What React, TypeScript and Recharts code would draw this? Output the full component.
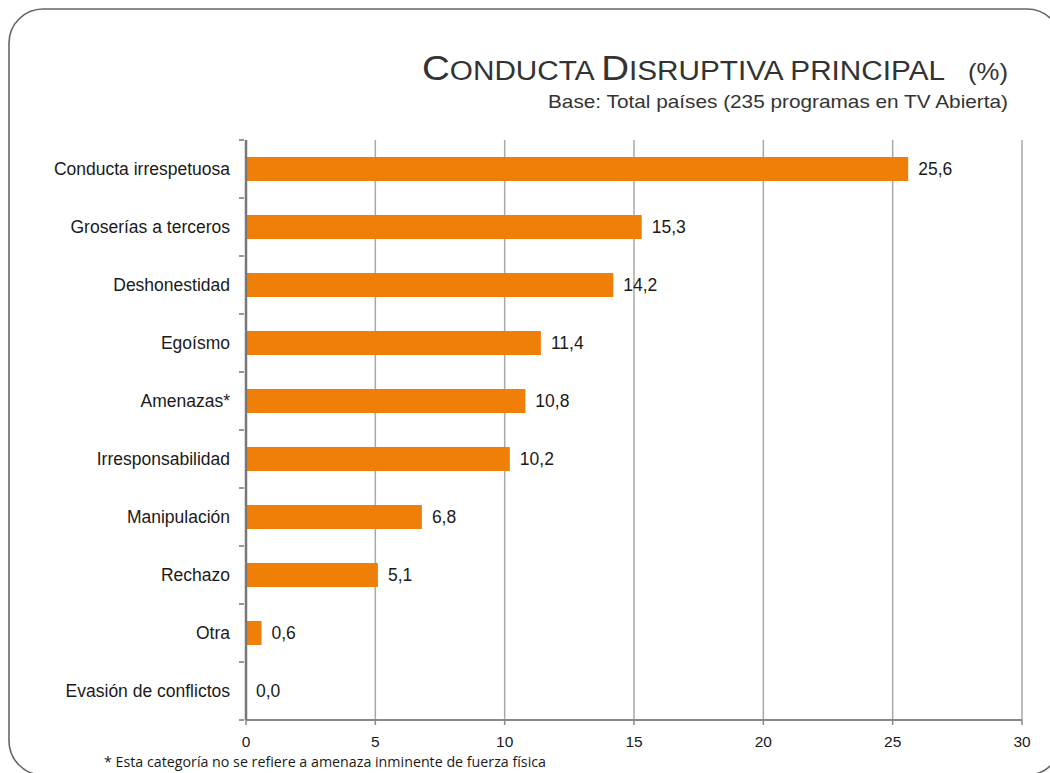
import React from 'react';
import { BarChart, Bar, XAxis, YAxis, CartesianGrid, LabelList } from 'recharts';

const categories = [
  'Conducta irrespetuosa',
  'Groserías a terceros',
  'Deshonestidad',
  'Egoísmo',
  'Amenazas*',
  'Irresponsabilidad',
  'Manipulación',
  'Rechazo',
  'Otra',
  'Evasión de conflictos',
];
const values = [25.6, 15.3, 14.2, 11.4, 10.8, 10.2, 6.8, 5.1, 0.6, 0.0];
const xTicks = [0, 5, 10, 15, 20, 25, 30];

const data = categories.map((name, i) => ({ name, value: values[i] }));

const FONT = '"Liberation Sans", Arial, sans-serif';
const ORANGE = '#F07F09';

const fmt = (v: any) => Number(v).toFixed(1).replace('.', ',');

function CategoryTick(props: any) {
  const { x, y, payload, index } = props;
  const half = payload && payload.offset ? payload.offset : 29;
  const axisX = x + 8;
  return (
    <g>
      <line x1={axisX - 5} x2={axisX} y1={y - half} y2={y - half} stroke="#777" strokeWidth={1.5} />
      {index === categories.length - 1 && (
        <line x1={axisX - 5} x2={axisX} y1={y + half} y2={y + half} stroke="#777" strokeWidth={1.5} />
      )}
      <text x={x - 6} y={y} dy="0.355em" textAnchor="end" fontSize={17.5} fill="#1a1a1a" fontFamily={FONT}>
        {payload.value}
      </text>
    </g>
  );
}

function ValueLabel(props: any) {
  const { x, y, width, height, value } = props;
  const w = Number(width) < 1 ? 0 : Number(width);
  return (
    <text
      x={Number(x) + w + 10}
      y={Number(y) + Number(height) / 2}
      dy="0.355em"
      fontSize={17.5}
      fill="#1a1a1a"
      fontFamily={FONT}
    >
      {fmt(value)}
    </text>
  );
}

export default function App() {
  return (
    <div
      style={{
        position: 'fixed',
        left: 0,
        top: 0,
        width: 1050,
        height: 773,
        overflow: 'hidden',
        background: '#fff',
      }}
    >
      <div style={{ position: 'absolute', left: 8, top: 8, width: 1034, height: 757 }}>
        <BarChart
          width={1034}
          height={757}
          data={data}
          layout="vertical"
          margin={{ top: 132, right: 20, bottom: 15, left: 0 }}
          barSize={24}
        >
          <CartesianGrid horizontal={false} vertical stroke="#a8a8a8" strokeWidth={1.5} />
          <XAxis
            type="number"
            domain={[0, 30]}
            ticks={xTicks}
            height={30}
            tickSize={5}
            tickMargin={11}
            axisLine={{ stroke: '#888', strokeWidth: 2 }}
            tickLine={{ stroke: '#888', strokeWidth: 1.5 }}
            tick={{ fontSize: 15.5, fill: '#1a1a1a', fontFamily: FONT }}
            interval={0}
          />
          <YAxis
            type="category"
            dataKey="name"
            width={238}
            tickSize={8}
            tickLine={false}
            axisLine={{ stroke: '#777', strokeWidth: 2.5 }}
            tick={<CategoryTick />}
            interval={0}
          />
          <Bar dataKey="value" fill={ORANGE} minPointSize={0.01} isAnimationActive={false}>
            <LabelList dataKey="value" content={<ValueLabel />} />
          </Bar>
        </BarChart>
        <svg
          width={1034}
          height={757}
          style={{ position: 'absolute', left: 0, top: 0, overflow: 'visible', pointerEvents: 'none' }}
        >
          <rect x={1} y={1} width={1052} height={766} rx={34} ry={34} fill="none" stroke="#666" strokeWidth={1.6} />
          <text
            x={414}
            y={72}
            fontSize={35}
            fill="#333"
            fontFamily={FONT}
            textLength={523}
            lengthAdjust="spacingAndGlyphs"
          >
            <tspan>C</tspan>
            <tspan fontSize={27}>ONDUCTA </tspan>
            <tspan>D</tspan>
            <tspan fontSize={27}>ISRUPTIVA PRINCIPAL</tspan>
          </text>
          <text x={960} y={72} fontSize={24} fill="#333" fontFamily={FONT} textLength={40} lengthAdjust="spacingAndGlyphs">
            (%)
          </text>
          <text x={540} y={100} fontSize={18.5} fill="#333" fontFamily={FONT} textLength={460} lengthAdjust="spacingAndGlyphs">
            Base: Total países (235 programas en TV Abierta)
          </text>
          <text x={96} y={759} fontSize={14} fill="#1a1a1a" fontFamily={'"Open Sans", sans-serif'} textLength={442} lengthAdjust="spacingAndGlyphs">
            * Esta categoría no se refiere a amenaza inminente de fuerza física
          </text>
        </svg>
      </div>
    </div>
  );
}
